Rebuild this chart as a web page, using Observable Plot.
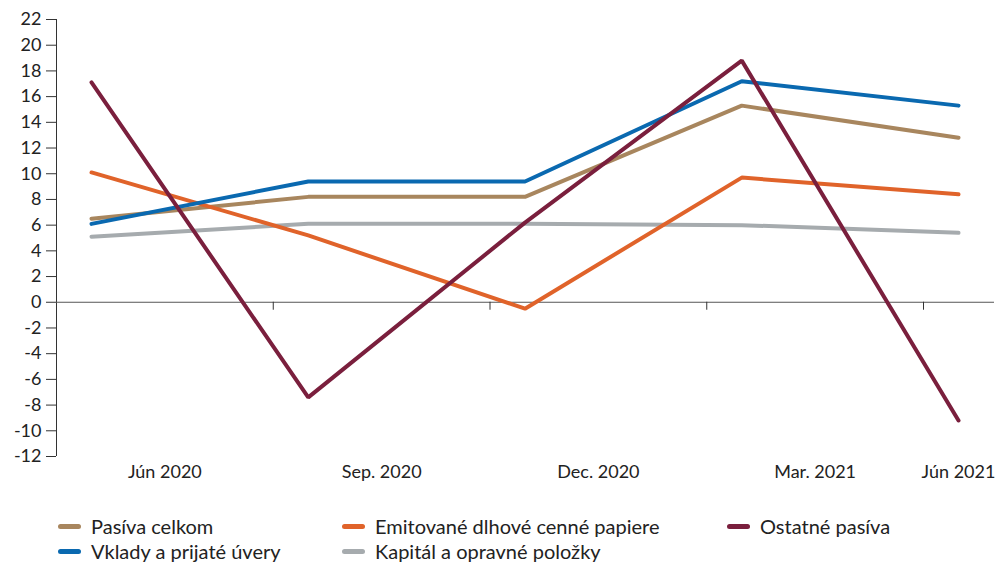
<!DOCTYPE html>
<html>
<head>
<meta charset="utf-8">
<script src="https://cdn.jsdelivr.net/npm/d3@7"></script>
<script src="https://cdn.jsdelivr.net/npm/@observablehq/plot@0.6"></script>
<style>
  html, body { margin: 0; padding: 0; background: #fff; overflow: hidden; }
  #wrap { position: relative; width: 997px; height: 562px; font-family: Lato, "Open Sans", sans-serif; }
  .legend { position: absolute; left: 0; top: 500px; width: 997px; height: 62px; }
  .item { position: absolute; display: flex; align-items: center; font-size: 20px; color: #222; white-space: nowrap; }
  .sw { width: 23px; height: 5px; border-radius: 3px; margin-right: 10px; }
</style>
</head>
<body>
<div id="wrap"></div>
<script>
const periods = ["Jún 2020", "Sep. 2020", "Dec. 2020", "Mar. 2021", "Jún 2021"];
const seriesNames = ["Pasíva celkom", "Emitované dlhové cenné papiere", "Ostatné pasíva", "Vklady a prijaté úvery", "Kapitál a opravné položky"];
const pasivaCelkom = [6.5, 8.2, 8.2, 15.3, 12.8];
const emitovane = [10.1, 5.2, -0.5, 9.7, 8.4];
const ostatne = [17.1, -7.4, 6.2, 18.8, -9.2];
const vklady = [6.1, 9.4, 9.4, 17.2, 15.3];
const kapital = [5.1, 6.1, 6.1, 6.0, 5.4];
const colors = ["#a8865e", "#e0632a", "#7a1f3d", "#0a69b0", "#a6abae"];
const yTicks = d3.range(-12, 23, 2);

const valuesBySeries = [pasivaCelkom, emitovane, ostatne, vklady, kapital];
const drawOrder = [4, 0, 1, 3, 2];
const rows = [];
for (const s of drawOrder) {
  valuesBySeries[s].forEach((v, i) => rows.push({series: seriesNames[s], i, v}));
}

const bandStart = -0.1615;
const xMax = 4.166;
const boundaries = d3.range(0, periods.length).map(k => bandStart + k);
const labelPos = periods.map((p, k) => Math.min(bandStart + k + 0.5, periods.length - 1));
const labels = periods.map((p, k) => ({p, x: labelPos[k]}));

const plot = Plot.plot({
  width: 997,
  height: 500,
  marginLeft: 56,
  marginRight: 3,
  marginTop: 19,
  marginBottom: 44,
  style: {fontFamily: "Lato, 'Open Sans', sans-serif", fontSize: "17px", color: "#222", background: "#fff"},
  x: {domain: [bandStart, xMax], axis: null},
  y: {domain: [-12, 22], axis: null},
  color: {domain: seriesNames, range: colors},
  marks: [
    Plot.axisY({ticks: yTicks, tickSize: 10, tickPadding: 5, tickFormat: d => String(d), stroke: "#333", fontSize: 18, textAnchor: "end", label: null}),
    Plot.ruleX([bandStart], {y1: -12, y2: 22, stroke: "#333", strokeWidth: 1}),
    Plot.ruleY([0], {stroke: "#555", strokeWidth: 1}),
    Plot.ruleX(boundaries.slice(1), {y1: 0, y2: -0.62, stroke: "#333", strokeWidth: 1}),
    Plot.text(labels, {x: "x", text: "p", frameAnchor: "bottom", dy: 21, fontSize: 18, fill: "#222"}),
    Plot.lineY(rows, {x: "i", y: "v", z: "series", stroke: "series", strokeWidth: 4, strokeLinejoin: "miter", strokeLinecap: "round"})
  ]
});
const wrap = document.getElementById("wrap");
wrap.appendChild(plot);

const legend = document.createElement("div");
legend.className = "legend";
const legendPos = [[58, 14], [342, 14], [727, 14], [58, 39], [342, 39]];
[0, 1, 2, 3, 4].forEach((s, k) => {
  const it = document.createElement("div");
  it.className = "item";
  it.style.left = legendPos[k][0] + "px";
  it.style.top = legendPos[k][1] + "px";
  const sw = document.createElement("div");
  sw.className = "sw";
  sw.style.background = colors[s];
  const t = document.createElement("span");
  t.textContent = seriesNames[s];
  it.appendChild(sw); it.appendChild(t);
  legend.appendChild(it);
});
wrap.appendChild(legend);
</script>
</body>
</html>
